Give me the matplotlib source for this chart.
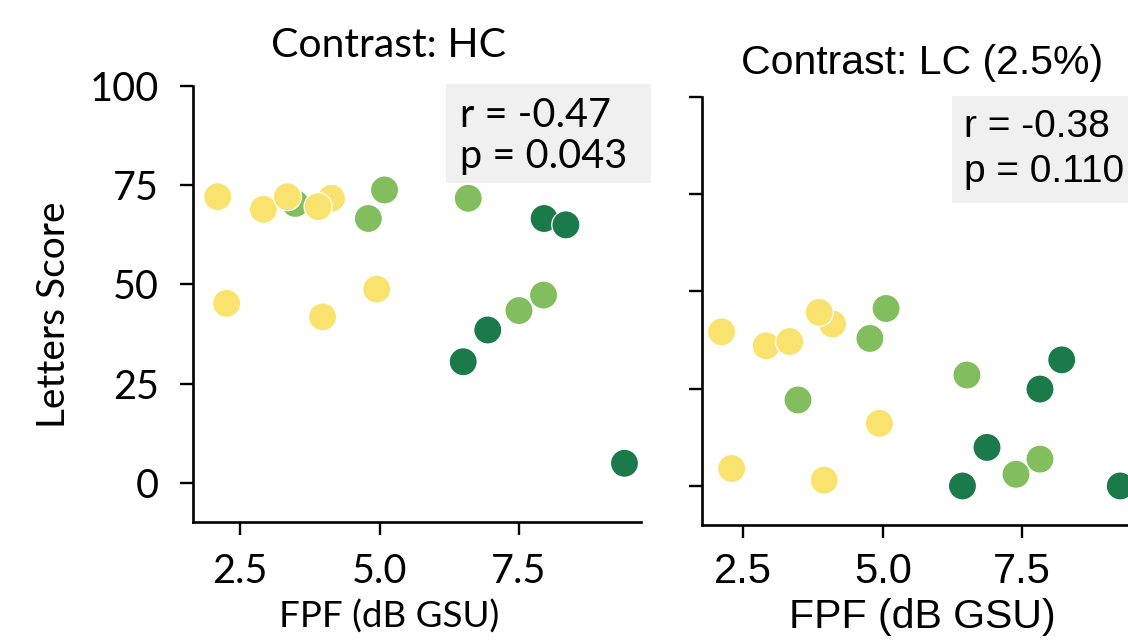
import matplotlib
matplotlib.use("Agg")
import matplotlib.pyplot as plt
from matplotlib.patches import Rectangle

W, H = 1128, 643

# ---------------- data ----------------
groups = ["low", "mid", "high"]
group_colors = {"low": "#F9E36E", "mid": "#82BE5E", "high": "#1B7A4A"}

hc_x = [2.10, 2.92, 3.49, 3.35, 4.14, 3.90, 5.09, 4.80, 2.26, 3.98, 4.95,
        6.59, 7.95, 8.34, 7.94, 7.50, 6.94, 6.50, 9.39]
hc_y = [72.1, 68.9, 70.4, 72.1, 71.7, 69.6, 73.8, 66.6, 45.2, 41.8, 48.8,
        71.7, 66.6, 65.0, 47.3, 43.4, 38.5, 30.5, 4.9]
hc_group = ["low", "low", "mid", "low", "low", "low", "mid", "mid", "low", "low", "low",
            "mid", "high", "high", "mid", "mid", "high", "high", "high"]

lc_x = [2.11, 2.91, 3.33, 4.10, 3.86, 5.06, 4.77, 6.51, 8.21, 7.82, 3.48,
        4.94, 6.87, 7.82, 7.39, 2.29, 3.95, 6.43, 9.26]
lc_y = [39.6, 36.0, 37.1, 41.6, 44.6, 45.6, 37.9, 28.5, 32.4, 24.9, 22.1,
        16.1, 9.9, 6.9, 3.0, 4.5, 1.5, 0.0, 0.0]
lc_group = ["low", "low", "low", "low", "low", "mid", "mid", "mid", "high", "high", "mid",
            "low", "high", "mid", "mid", "low", "low", "high", "high"]

y_ticks = [0, 25, 50, 75, 100]
x_ticks = [2.5, 5.0, 7.5]
x_tick_labels = ["2.5", "5.0", "7.5"]

titles = ["Contrast: HC", "Contrast: LC (2.5%)"]
stats = [("r = -0.47", "p = 0.043"), ("r = -0.38", "p = 0.110")]
x_label = "FPF (dB GSU)"
y_label = "Letters Score"

# ---------------- helpers ----------------
def fx(px):
    return px / W

def fy(py):
    return (H - py) / H

FONT_L = ["Lato", "DejaVu Sans"]
FONT_R = ["Liberation Sans", "DejaVu Sans"]

fig = plt.figure(figsize=(W / 100, H / 100), dpi=100)
fig.patch.set_facecolor("white")

axL = fig.add_axes([fx(192.5), fy(522.4), fx(641) - fx(192.5), fy(86) - fy(522.4)])
axR = fig.add_axes([fx(701.7), fy(524.9), fx(1144) - fx(701.7), fy(96.7) - fy(524.9)])

def style(ax, xlim, font, fs, xpad, ypad, show_ylabels):
    ax.set_xlim(*xlim)
    ax.set_ylim(-10, 100)
    for s in ["top", "right"]:
        ax.spines[s].set_visible(False)
    for s in ["left", "bottom"]:
        ax.spines[s].set_linewidth(1.9)
        ax.spines[s].set_color("#000000")
    ax.set_xticks(x_ticks)
    ax.set_xticklabels(x_tick_labels, fontsize=fs, fontfamily=font)
    ax.set_yticks(y_ticks)
    if show_ylabels:
        ax.set_yticklabels([str(t) for t in y_ticks], fontsize=fs, fontfamily=font)
    else:
        ax.set_yticklabels([])
    ax.tick_params(axis="both", length=9.4, width=1.7, color="#000000")
    ax.tick_params(axis="x", pad=xpad)
    ax.tick_params(axis="y", pad=ypad)
    ax.patch.set_alpha(0)

style(axL, (1.649, 9.686), FONT_L, 28.5, 12.5, 15, True)
style(axR, (1.753, 9.686), FONT_R, 30, 10.0, 15, False)

axL.scatter(hc_x, hc_y, c=[group_colors[g] for g in hc_group], s=410,
            edgecolors="white", linewidths=0.9, zorder=3, clip_on=False)
axR.scatter(lc_x, lc_y, c=[group_colors[g] for g in lc_group], s=410,
            edgecolors="white", linewidths=0.9, zorder=3, clip_on=False)

# titles
fig.text(fx(388.5), fy(57), titles[0], fontsize=29.5, fontfamily=FONT_L,
         ha="center", va="baseline")
fig.text(fx(922.5), fy(74), titles[1], fontsize=29.5, fontfamily=FONT_R,
         ha="center", va="baseline")

# x labels
fig.text(fx(389), fy(628), x_label, fontsize=26.5, fontfamily=FONT_L,
         ha="center", va="baseline")
fig.text(fx(922.5), fy(628), x_label, fontsize=29.5, fontfamily=FONT_R,
         ha="center", va="baseline")

# y label
fig.text(fx(54), fy(315), y_label, fontsize=28, fontfamily=FONT_L,
         ha="center", va="center", rotation=90)

# stat boxes
fig.add_artist(Rectangle((fx(445.5), fy(183)), fx(651) - fx(445.5), fy(84) - fy(183),
                         transform=fig.transFigure, facecolor="#F0F0F0",
                         edgecolor="none", zorder=1))
fig.add_artist(Rectangle((fx(952), fy(203)), fx(1140) - fx(952), fy(96) - fy(203),
                         transform=fig.transFigure, facecolor="#F0F0F0",
                         edgecolor="none", zorder=1))
fig.text(fx(460), fy(127), stats[0][0], fontsize=28.5, fontfamily=FONT_L,
         ha="left", va="baseline", zorder=2)
fig.text(fx(460), fy(168), stats[0][1], fontsize=28.5, fontfamily=FONT_L,
         ha="left", va="baseline", zorder=2)
fig.text(fx(964), fy(137), stats[1][0], fontsize=28, fontfamily=FONT_R,
         ha="left", va="baseline", zorder=2)
fig.text(fx(964), fy(182), stats[1][1], fontsize=28, fontfamily=FONT_R,
         ha="left", va="baseline", zorder=2)

fig.savefig("out.png", dpi=100, facecolor="white")
